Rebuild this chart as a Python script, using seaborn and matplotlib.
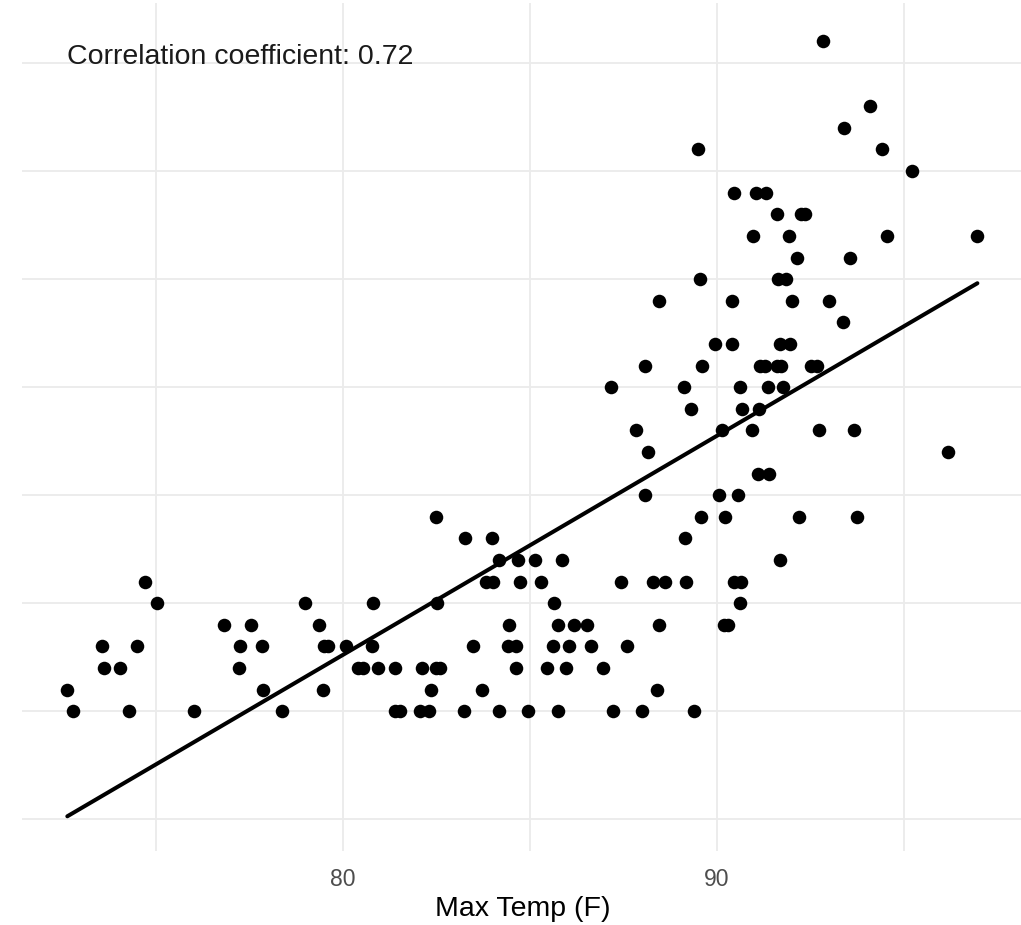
"""
Scatter of max temperature with a linear fit, ggplot-minimal look
"""

import matplotlib
matplotlib.use("Agg")
import matplotlib.pyplot as plt
import seaborn as sns
import pandas as pd

# Values, one row of readings per vertical level
max_temp = [
    72.78, 74.27, 76.02, 78.37, 81.39, 81.52, 82.06, 82.31, 83.24, 84.18, 84.96, 85.76, 87.23, 87.99, 89.39,
    72.63, 77.87, 79.48, 82.37, 83.73, 88.40,
    73.62, 74.05, 77.22, 80.41, 80.55, 80.93, 81.40, 82.12, 82.48, 82.59, 84.64, 85.47, 85.96, 86.96,
    73.55, 74.49, 77.26, 77.85, 79.49, 79.61, 80.08, 80.78, 83.48, 84.42, 84.64, 85.62, 86.05, 86.64, 87.60,
    76.82, 77.53, 79.37, 84.44, 85.76, 86.18, 86.52, 88.46, 90.19, 90.30,
    75.04, 78.98, 80.80, 82.53, 85.65, 90.62,
    74.72, 83.82, 84.02, 84.73, 85.29, 87.44, 88.30, 88.61, 89.17, 90.45, 90.64,
    84.18, 84.68, 85.14, 85.86, 91.69,
    83.27, 83.98, 89.14,
    82.49, 89.57, 90.21, 92.20, 93.75,
    88.09, 90.05, 90.56,
    91.10, 91.40,
    88.16, 96.19,
    87.83, 90.14, 90.93, 92.74, 93.67,
    89.30, 90.67, 91.13,
    87.16, 89.13, 90.62, 91.37, 91.77,
    88.09, 89.61, 91.15, 91.28, 91.60, 91.71, 92.53, 92.68,
    89.94, 90.42, 91.68, 91.95,
    93.37,
    88.45, 90.41, 92.00, 93.01,
    89.55, 91.63, 91.86,
    92.14, 93.56,
    90.97, 91.94, 94.55, 96.97,
    91.60, 92.26, 92.35,
    90.46, 91.06, 91.31,
    95.21,
    89.51, 94.43,
    93.40,
    94.11,
    92.84,
]
y_value = (
    [0] * 15 + [1] * 6 + [2] * 14 + [3] * 15 + [4] * 10 + [5] * 6 + [6] * 11
    + [7] * 5 + [8] * 3 + [9] * 5 + [10] * 3 + [11] * 2 + [12] * 2 + [13] * 5
    + [14] * 3 + [15] * 5 + [16] * 8 + [17] * 4 + [18] * 1 + [19] * 4 + [20] * 3
    + [21] * 2 + [22] * 4 + [23] * 3 + [24] * 3 + [25] + [26] * 2 + [27] + [28] + [31]
)
x_ticks = [80, 90]
x_minor = [75, 85, 95]
y_grid = [-5, 0, 5, 10, 15, 20, 25, 30]
label_text = "Correlation coefficient: 0.72"

df = pd.DataFrame({"max_temp": max_temp, "y": y_value})

sns.set_theme(style="white")
plt.rcParams["font.family"] = ["Liberation Sans", "DejaVu Sans"]

fig = plt.figure(figsize=(10.21, 9.25), dpi=100)
ax = fig.add_axes([21.7 / 1021, 74 / 925, 1001.3 / 1021, 848 / 925])

sns.regplot(
    data=df, x="max_temp", y="y", ci=None, ax=ax,
    scatter_kws={"s": 95, "color": "black", "alpha": 1, "linewidths": 0},
    line_kws={"color": "black", "lw": 2.9},
)

ax.set_xlim(71.41, 98.19)
ax.set_ylim(-6.47, 32.78)
ax.set_xticks(x_ticks)
ax.set_xticks(x_minor, minor=True)
ax.set_yticks(y_grid)
ax.set_yticklabels([])
ax.grid(True, which="both", color="#EBEBEB", linewidth=1.3)
ax.set_axisbelow(True)
for s in ax.spines.values():
    s.set_visible(False)
ax.tick_params(axis="both", which="both", length=0)
ax.tick_params(axis="x", labelsize=16.5, labelcolor="#4D4D4D", pad=12)

ax.set_xlabel("Max Temp (F)", fontsize=20.5, color="black", labelpad=4)
ax.set_ylabel("")

ax.text(72.63, 30.28, label_text, fontsize=20.5, color="#1A1A1A", ha="left", va="center")

fig.savefig("out.png", dpi=100)
